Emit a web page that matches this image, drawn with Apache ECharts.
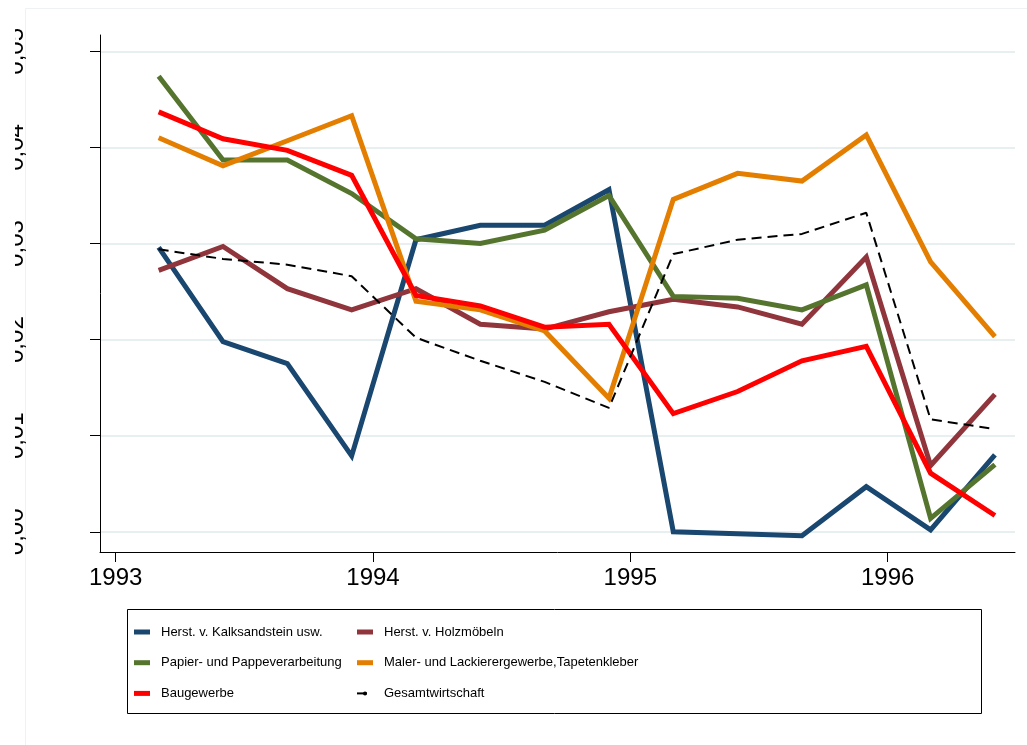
<!DOCTYPE html>
<html>
<head>
<meta charset="utf-8">
<script src="https://cdn.jsdelivr.net/npm/echarts@6/dist/echarts.min.js"></script>
<style>
  html, body { margin: 0; padding: 0; background: #ffffff; }
  #wrap { position: absolute; left: 15px; top: 0; width: 1012px; height: 745px; overflow: hidden; background: #ffffff; }
  #chart { position: absolute; left: -15px; top: 0; width: 1027px; height: 745px; }
</style>
</head>
<body>
<div id="wrap"><div id="chart"></div></div>
<script>
// ---- data ----
const periods = [1993.167, 1993.417, 1993.667, 1993.917, 1994.167, 1994.417, 1994.667,
                 1994.917, 1995.167, 1995.417, 1995.667, 1995.917, 1996.167, 1996.417];
const xTickValues = [1993, 1994, 1995, 1996];
const yTickValues = [0, 0.01, 0.02, 0.03, 0.04, 0.05];

const kalksandstein = [0.0296, 0.0198, 0.0175, 0.0079, 0.0304, 0.0319, 0.0319, 0.0356, 0.0000, -0.0002, -0.0004, 0.0047, 0.0002, 0.0080];
const holzmoebeln   = [0.0272, 0.0297, 0.0253, 0.0231, 0.0253, 0.0216, 0.0211, 0.0229, 0.0242, 0.0234, 0.0216, 0.0286, 0.0069, 0.0143];
const papier        = [0.0474, 0.0387, 0.0387, 0.0352, 0.0305, 0.0300, 0.0314, 0.0350, 0.0245, 0.0243, 0.0231, 0.0257, 0.0014, 0.0070];
const maler         = [0.0410, 0.0381, 0.0407, 0.0433, 0.0240, 0.0231, 0.0209, 0.0139, 0.0346, 0.0373, 0.0365, 0.0413, 0.0281, 0.0203];
const baugewerbe    = [0.0437, 0.0409, 0.0397, 0.0371, 0.0246, 0.0235, 0.0213, 0.0216, 0.0123, 0.0146, 0.0178, 0.0193, 0.0061, 0.0017];
const gesamt        = [0.0294, 0.0284, 0.0278, 0.0266, 0.0202, 0.0178, 0.0156, 0.0129, 0.0289, 0.0304, 0.0310, 0.0332, 0.0117, 0.0107];

const seriesNames = [
  'Herst. v. Kalksandstein usw.',
  'Herst. v. Holzmöbeln',
  'Papier- und Pappeverarbeitung',
  'Maler- und Lackierergewerbe,Tapetenkleber',
  'Baugewerbe',
  'Gesamtwirtschaft'
];
const seriesValues = [kalksandstein, holzmoebeln, papier, maler, baugewerbe, gesamt];
const seriesColors = ['#1a476f', '#90353b', '#55752f', '#e37e00', '#ff0000', '#000000'];

// ---- fonts ----
const baseFont = "'Liberation Sans', Arial, Helvetica, sans-serif";
function measure(font, text) {
  const ctx = document.createElement('canvas').getContext('2d');
  ctx.font = font;
  return ctx.measureText(text).width;
}
let legendFamily = baseFont;
const probe = 'Herst. v. Kalksandstein usw.';
const narrowW = measure("17px 'Liberation Sans Narrow', monospace", probe);
const monoW = measure('17px monospace', probe);
if (Math.abs(narrowW - monoW) > 0.5) legendFamily = "'Liberation Sans Narrow', " + baseFont;
const w17 = measure('17px ' + legendFamily, probe);
const legendSize = Math.min(17, Math.round(17 * 162 / w17 * 10) / 10);

const toPairs = vals => vals.map((v, i) => [periods[i], v]);

const series = seriesNames.map((name, i) => ({
  name: name,
  type: 'line',
  data: toPairs(seriesValues[i]),
  symbol: 'none',
  showSymbol: false,
  z: 2 + i,
  lineStyle: i === 5
    ? { color: seriesColors[i], width: 2, type: [10, 6] }
    : { color: seriesColors[i], width: 5, cap: 'butt', join: 'miter' },
  itemStyle: { color: seriesColors[i] }
}));

function legendItem(name, idx) {
  return idx === 5 ? { name: name } : { name: name, icon: 'rect' };
}

const legendCommon = {
  orient: 'vertical',
  top: 622,
  padding: 0,
  itemWidth: 16,
  itemHeight: 5,
  itemGap: 10.7,
  selectedMode: false,
  textStyle: { fontFamily: legendFamily, fontSize: legendSize, color: '#000', lineHeight: 20, padding: [0, 0, 0, 6] }
};

const chart = echarts.init(document.getElementById('chart'), null, { renderer: 'canvas' });
chart.setOption({
  animation: false,
  backgroundColor: '#ffffff',
  grid: { left: 100, right: 12, top: 35, bottom: 193, containLabel: false },
  xAxis: {
    type: 'value',
    min: 1992.939,
    max: 1996.495,
    axisLine: { show: true, onZero: false, lineStyle: { color: '#000', width: 1 } },
    axisTick: { show: true, length: 10, lineStyle: { color: '#000', width: 1 }, customValues: xTickValues },
    axisLabel: { customValues: xTickValues, fontSize: 24, color: '#000', fontFamily: baseFont, margin: 14,
                 formatter: v => String(Math.round(v)) },
    splitLine: { show: false }
  },
  yAxis: {
    type: 'value',
    min: -0.0021,
    max: 0.0517,
    axisLine: { show: true, onZero: false, lineStyle: { color: '#000', width: 1 } },
    axisTick: { show: true, length: 10, lineStyle: { color: '#000', width: 1 }, customValues: yTickValues },
    axisLabel: { customValues: yTickValues, rotate: 90, fontSize: 24, color: '#000', fontFamily: baseFont, margin: 72,
                 formatter: v => v.toFixed(2).replace('.', ',') },
    splitLine: { show: true, lineStyle: { color: '#e8eff1', width: 2 } }
  },
  legend: [
    Object.assign({}, legendCommon, { left: 134, data: [0, 2, 4].map(i => legendItem(seriesNames[i], i)) }),
    Object.assign({}, legendCommon, { left: 356, data: [1, 3, 5].map(i => legendItem(seriesNames[i], i)) })
  ],
  graphic: [
    { type: 'rect', z: -10, silent: true, shape: { x: 25.5, y: 8.5, width: 1200, height: 900 },
      style: { fill: 'none', stroke: '#eef2f4', lineWidth: 1 } },
    { type: 'rect', z: -5, silent: true, shape: { x: 127.5, y: 609.5, width: 854, height: 104 },
      style: { fill: '#ffffff', stroke: '#000000', lineWidth: 1 } }
  ],
  series: series
});
</script>
</body>
</html>
